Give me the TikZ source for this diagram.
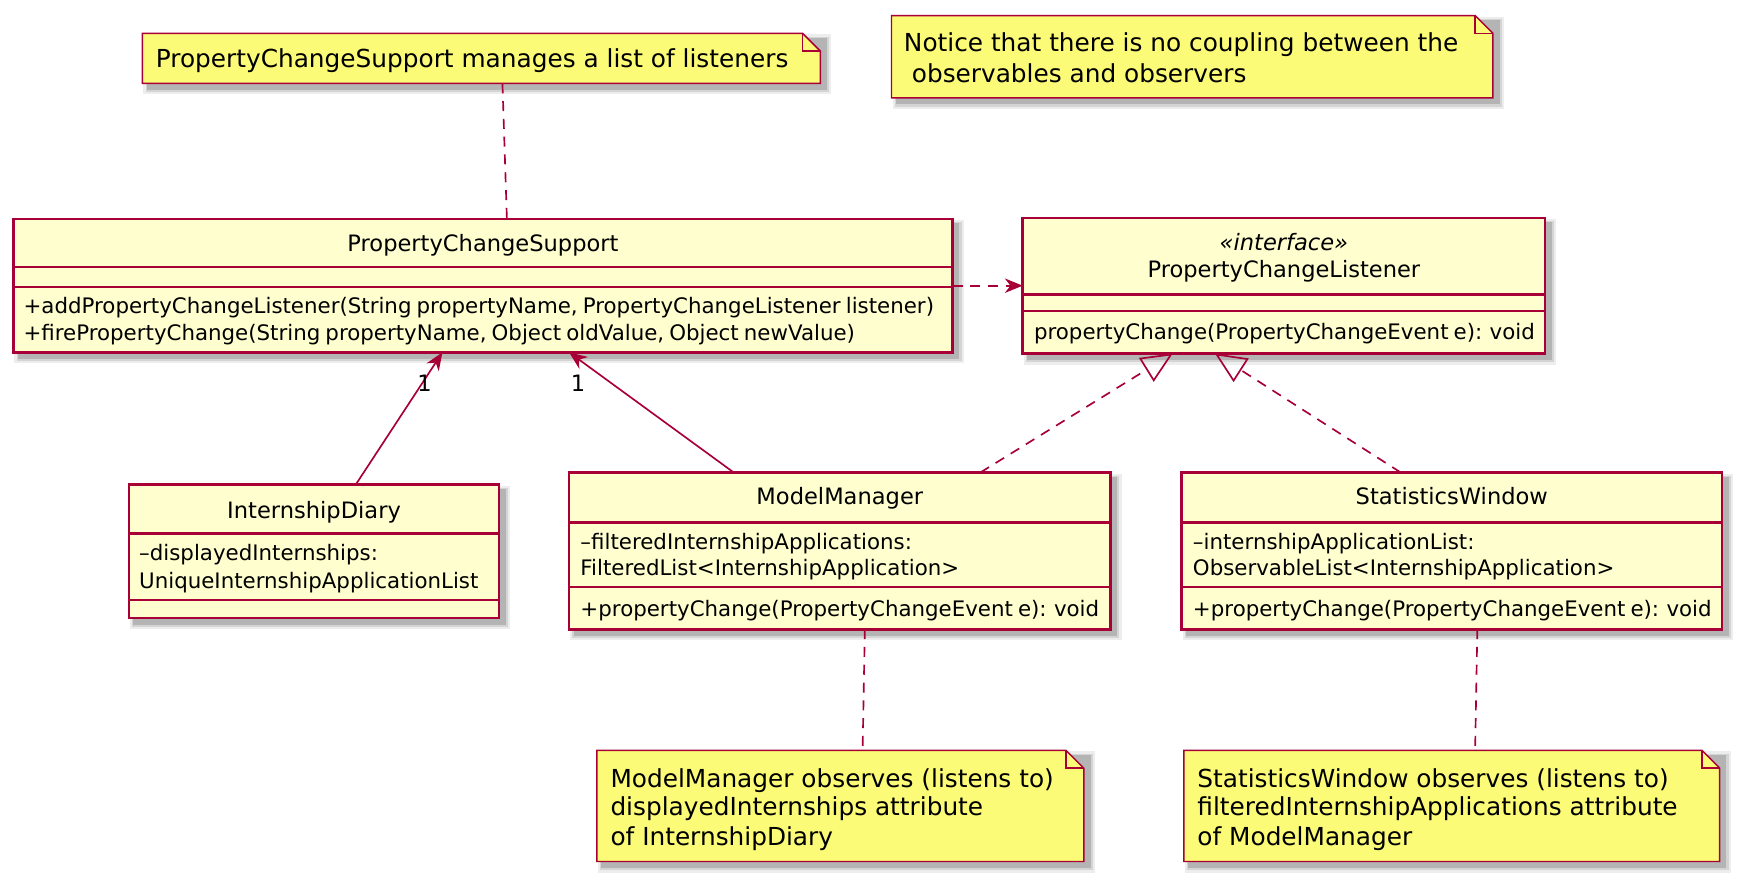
\documentclass[tikz,border=0pt]{standalone}
\usepackage{fontspec}
\setmainfont{DejaVu Sans}
\newfontfamily\classfam{DejaVu Sans}[WordSpace=0.75]
\usetikzlibrary{arrows.meta,calc}
\definecolor{umlred}{HTML}{A80036}
\definecolor{classbg}{HTML}{FEFECE}
\definecolor{notebg}{HTML}{FBFB77}
\newcommand\ctextfont{\classfam\fontsize{19.2pt}{24pt}\selectfont}
\newcommand\ctitlefont{\classfam\fontsize{20.3pt}{24pt}\selectfont}
\newcommand\ntextfont{\fontsize{22.3pt}{26.5pt}\selectfont}
\tikzset{
  classbox/.style={draw=umlred, fill=classbg, line width=2.4pt, inner sep=0pt, outer sep=0pt},
  sepline/.style={draw=umlred, line width=2.2pt},
  notebox/.style={draw=umlred, fill=notebg, line width=1.3pt, line join=miter},
  foldline/.style={draw=umlred, line width=1.3pt},
  conn/.style={draw=umlred, line width=1.5pt},
  dashconn/.style={conn, dash pattern=on 9pt off 7pt},
  assoc/.style={-{Stealth[length=16pt,width=13pt,inset=5pt]}},
  realize/.style={-{Triangle[open,length=28pt,width=25pt,line width=1.5pt]}},
  ctxt/.style={inner sep=0pt, font=\ctextfont, anchor=base west},
  ctitle/.style={inner sep=0pt, font=\ctitlefont, anchor=base},
  ntxt/.style={inner sep=0pt, font=\ntextfont, anchor=base west},
  lbl/.style={inner sep=0pt, font=\ctitlefont},
  hold/.style={inner sep=0pt, outer sep=0pt, draw=none},
}
\newcommand\umlshadow[4]{%
  \fill[black,opacity=.07] ([shift={(1,1)}]#1,#2) rectangle ([shift={(10,10)}]#3,#4);
  \fill[black,opacity=.10] ([shift={(3,3)}]#1,#2) rectangle ([shift={(8,8)}]#3,#4);
  \fill[black,opacity=.15] ([shift={(4,4)}]#1,#2) rectangle ([shift={(6,6)}]#3,#4);
}
\newcommand\umlclass[5]{%
  \umlshadow{#2}{#3}{#4}{#5}%
  \pgfmathsetmacro\cw{#4-#2}\pgfmathsetmacro\ch{#5-#3}%
  \node[classbox, minimum width=\cw pt, minimum height=\ch pt] (#1) at ($(#2,#3)!.5!(#4,#5)$) {};
}
\newcommand\umlnote[5]{%
  \umlshadow{#2}{#3}{#4}{#5}%
  \pgfmathsetmacro\cw{#4-#2}\pgfmathsetmacro\ch{#5-#3}%
  \pgfmathsetmacro\fx{#4-16}\pgfmathsetmacro\fy{#3+16}%
  \node[hold, minimum width=\cw pt, minimum height=\ch pt] (#1) at ($(#2,#3)!.5!(#4,#5)$) {};
  \path[notebox] (#2,#3) -- (\fx,#3) -- (#4,\fy) -- (#4,#5) -- (#2,#5) -- cycle;
  \draw[foldline] (\fx,#3) -- (\fx,\fy) -- (#4,\fy);
}
\begin{document}
\begin{tikzpicture}[x=1pt,y=-1pt]
\useasboundingbox[fill=white] (0,0) rectangle (1568,794);

% ---------- notes ----------
\umlnote{n1}{128}{30}{738}{75}
\node[ntxt] (n1t) at (140,61) {PropertyChangeSupport manages a list of listeners};

\umlnote{n2}{802}{14}{1343}{88}
\node[ntxt] (n2a) at (813,46) {Notice that there is no coupling between the};
\node[ntxt] (n2b) at (813,74) {\ observables and observers};

\umlnote{n3}{537}{675}{975}{775}
\node[ntxt] (n3a) at (549,708) {ModelManager observes (listens to)};
\node[ntxt] (n3b) at (549,734) {displayedInternships attribute};
\node[ntxt] (n3c) at (549,761) {of InternshipDiary};

\umlnote{n4}{1065}{675}{1547}{775}
\node[ntxt] (n4a) at (1077,708) {StatisticsWindow observes (listens to)};
\node[ntxt] (n4b) at (1077,734) {filteredInternshipApplications attribute};
\node[ntxt] (n4c) at (1077,761) {of ModelManager};

% ---------- classes ----------
\umlclass{pcs}{12}{197}{857}{317}
\draw[sepline] (pcs.west |- 0,240) -- (pcs.east |- 0,240);
\draw[sepline] (pcs.west |- 0,258) -- (pcs.east |- 0,258);
\node[ctitle] (pcsT) at (434.5,226) {PropertyChangeSupport};
\node[ctxt] (pcsM1) at (21,282) {+addPropertyChangeListener(String propertyName, PropertyChangeListener listener)};
\node[ctxt] (pcsM2) at (21,306) {+firePropertyChange(String propertyName, Object oldValue, Object newValue)};

\umlclass{pcl}{920}{196}{1390}{318}
\draw[sepline] (pcl.west |- 0,265) -- (pcl.east |- 0,265);
\draw[sepline] (pcl.west |- 0,280) -- (pcl.east |- 0,280);
\node[ctitle] (pclS) at (1155,225) {\itshape «interface»};
\node[ctitle] (pclT) at (1155,250) {PropertyChangeListener};
\node[ctxt] (pclM1) at (930,305) {propertyChange(PropertyChangeEvent e): void};

\umlclass{idy}{116}{436}{449}{556}
\draw[sepline] (idy.west |- 0,480) -- (idy.east |- 0,480);
\draw[sepline] (idy.west |- 0,540) -- (idy.east |- 0,540);
\node[ctitle] (idyT) at (282.5,466) {InternshipDiary};
\node[ctxt] (idyA1) at (125,504) {–displayedInternships:};
\node[ctxt] (idyA2) at (125,529) {UniqueInternshipApplicationList};

\umlclass{mm}{512}{425}{999}{566}
\draw[sepline] (mm.west |- 0,470) -- (mm.east |- 0,470);
\draw[sepline] (mm.west |- 0,528) -- (mm.east |- 0,528);
\node[ctitle] (mmT) at (755.5,454) {ModelManager};
\node[ctxt] (mmA1) at (522,494) {–filteredInternshipApplications:};
\node[ctxt] (mmA2) at (522,518) {FilteredList<InternshipApplication>};
\node[ctxt] (mmM1) at (522,555) {+propertyChange(PropertyChangeEvent e): void};

\umlclass{sw}{1063}{425}{1549}{566}
\draw[sepline] (sw.west |- 0,470) -- (sw.east |- 0,470);
\draw[sepline] (sw.west |- 0,528) -- (sw.east |- 0,528);
\node[ctitle] (swT) at (1306,454) {StatisticsWindow};
\node[ctxt] (swA1) at (1073,494) {–internshipApplicationList:};
\node[ctxt] (swA2) at (1073,518) {ObservableList<InternshipApplication>};
\node[ctxt] (swM1) at (1073,555) {+propertyChange(PropertyChangeEvent e): void};

% ---------- connectors ----------
\draw[dashconn] ([xshift=19pt]n1.south) -- ([xshift=21.5pt]pcs.north);
\draw[dashconn, assoc] (pcs.east) -- (pcl.west);
\draw[conn, assoc] ([xshift=37.5pt]idy.north) -- ([xshift=-36.5pt]pcs.south);
\draw[conn, assoc] ([xshift=-95.5pt]mm.north) -- ([xshift=77.5pt]pcs.south);
\node[lbl] (l1) at (382,345) {1};
\node[lbl] (l2) at (520,345) {1};
\draw[dashconn, realize] ([xshift=126.5pt]mm.north) -- ([xshift=-100pt]pcl.south);
\draw[dashconn, realize] ([xshift=-46pt]sw.north) -- ([xshift=-62pt]pcl.south);
\draw[dashconn] ([xshift=22.5pt]mm.south) -- ([xshift=20pt]n3.north);
\draw[dashconn] ([xshift=23pt]sw.south) -- ([xshift=21pt]n4.north);
\end{tikzpicture}
\end{document}
